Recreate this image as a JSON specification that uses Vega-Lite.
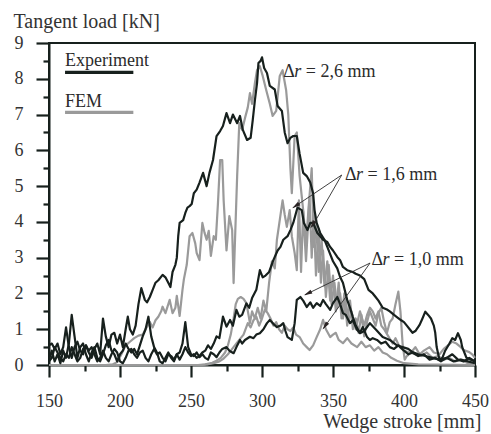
{
 "$schema": "https://vega.github.io/schema/vega-lite/v6.json",
 "width": 426, "height": 322,
 "autosize": "none",
 "padding": {"left": 49, "top": 43, "right": 16, "bottom": 69},
 "background": "white",
 "view": {"stroke": "#17201d", "strokeWidth": 2},
 "config": {
  "font": "Liberation Serif",
  "axis": {"domainColor": "#17201d", "domainWidth": 2, "ticks": true, "tickColor": "#17201d", "tickWidth": 2.2, "tickOpacity": 1,
   "labelFont": "Liberation Serif", "labelFontSize": 18, "labelColor": "#333333", "labelOverlap": false, "labelFlush": false,
   "titleFont": "Liberation Serif", "titleFontSize": 20, "titleFontWeight": "normal", "titleColor": "#333333", "grid": false}
 },
 "datasets": {
  "fem": [
   {"s":"F26","x":150,"y":0},{"s":"F26","x":190,"y":0},{"s":"F26","x":195,"y":0.02},{"s":"F26","x":198,"y":0.08},{"s":"F26","x":201,"y":0.3},{"s":"F26","x":204,"y":0.55},{"s":"F26","x":207,"y":0.65},{"s":"F26","x":210,"y":0.75},{"s":"F26","x":213,"y":0.82},{"s":"F26","x":216,"y":0.85},{"s":"F26","x":218,"y":1.0},{"s":"F26","x":221,"y":1.2},{"s":"F26","x":223,"y":1.05},{"s":"F26","x":225,"y":1.25},{"s":"F26","x":227,"y":1.35},{"s":"F26","x":229,"y":1.5},{"s":"F26","x":230,"y":1.63},{"s":"F26","x":232,"y":1.45},{"s":"F26","x":235,"y":1.82},{"s":"F26","x":237,"y":1.45},{"s":"F26","x":239,"y":1.6},{"s":"F26","x":240,"y":1.93},{"s":"F26","x":242,"y":1.37},{"s":"F26","x":244,"y":2.1},{"s":"F26","x":245,"y":2.4},{"s":"F26","x":247,"y":2.8},{"s":"F26","x":249,"y":3.6},{"s":"F26","x":251,"y":3.69},{"s":"F26","x":253,"y":3.4},{"s":"F26","x":254,"y":3.13},{"s":"F26","x":256,"y":2.93},{"s":"F26","x":258,"y":3.97},{"s":"F26","x":259.5,"y":3.7},{"s":"F26","x":261,"y":3.5},{"s":"F26","x":262.5,"y":3.75},{"s":"F26","x":264,"y":3.05},{"s":"F26","x":266,"y":3.6},{"s":"F26","x":267.5,"y":3.5},{"s":"F26","x":269,"y":4.53},{"s":"F26","x":270.5,"y":5.73},{"s":"F26","x":272,"y":5.73},{"s":"F26","x":273,"y":4.6},{"s":"F26","x":275,"y":3.2},{"s":"F26","x":277,"y":4.16},{"s":"F26","x":279,"y":3.77},{"s":"F26","x":280,"y":2.29},{"s":"F26","x":281,"y":3.5},{"s":"F26","x":282.5,"y":5.28},{"s":"F26","x":284,"y":6.76},{"s":"F26","x":286,"y":6.57},{"s":"F26","x":288,"y":6.9},{"s":"F26","x":290,"y":7.2},{"s":"F26","x":291.5,"y":7.6},{"s":"F26","x":293,"y":7.3},{"s":"F26","x":295,"y":7.88},{"s":"F26","x":296.5,"y":8.24},{"s":"F26","x":298.5,"y":8.35},{"s":"F26","x":300.5,"y":8.08},{"s":"F26","x":303,"y":7.68},{"s":"F26","x":305.5,"y":7.3},{"s":"F26","x":307.5,"y":6.96},{"s":"F26","x":310,"y":7.1},{"s":"F26","x":312.5,"y":8.08},{"s":"F26","x":314.5,"y":8.24},{"s":"F26","x":317,"y":7.68},{"s":"F26","x":318.5,"y":7.0},{"s":"F26","x":320,"y":5.5},{"s":"F26","x":321,"y":4.8},{"s":"F26","x":323,"y":6.4},{"s":"F26","x":324.5,"y":6.5},{"s":"F26","x":326.5,"y":5.28},{"s":"F26","x":329,"y":4.33},{"s":"F26","x":331,"y":3.4},{"s":"F26","x":333,"y":4.5},{"s":"F26","x":335,"y":5.5},{"s":"F26","x":336.5,"y":3.3},{"s":"F26","x":338,"y":4.0},{"s":"F26","x":340,"y":2.6},{"s":"F26","x":342,"y":3.5},{"s":"F26","x":344,"y":2.2},{"s":"F26","x":346,"y":2.9},{"s":"F26","x":348,"y":1.8},{"s":"F26","x":350,"y":2.5},{"s":"F26","x":352,"y":1.5},{"s":"F26","x":354,"y":2.3},{"s":"F26","x":356,"y":1.3},{"s":"F26","x":358,"y":2.0},{"s":"F26","x":360,"y":1.1},{"s":"F26","x":362,"y":1.8},{"s":"F26","x":364,"y":1.0},{"s":"F26","x":366,"y":1.3},{"s":"F26","x":368,"y":0.9},{"s":"F26","x":370,"y":1.4},{"s":"F26","x":372,"y":0.8},{"s":"F26","x":374,"y":1.2},{"s":"F26","x":376,"y":1.5},{"s":"F26","x":378,"y":1.3},{"s":"F26","x":380,"y":1.1},{"s":"F26","x":382,"y":1.45},{"s":"F26","x":384,"y":1.6},{"s":"F26","x":386,"y":1.2},{"s":"F26","x":388,"y":0.9},{"s":"F26","x":390,"y":1.2},{"s":"F26","x":392,"y":1.3},{"s":"F26","x":394,"y":1.7},{"s":"F26","x":396,"y":2.05},{"s":"F26","x":397.5,"y":1.5},{"s":"F26","x":399,"y":0.6},{"s":"F26","x":400.5,"y":0.15},{"s":"F26","x":402,"y":0.25},{"s":"F26","x":405,"y":0.35},{"s":"F26","x":408,"y":0.5},{"s":"F26","x":411,"y":0.3},{"s":"F26","x":414,"y":0.4},{"s":"F26","x":418,"y":0.5},{"s":"F26","x":421,"y":0.35},{"s":"F26","x":425,"y":0.3},{"s":"F26","x":428,"y":0.45},{"s":"F26","x":431,"y":0.55},{"s":"F26","x":434,"y":0.65},{"s":"F26","x":437,"y":0.6},{"s":"F26","x":440,"y":0.5},{"s":"F26","x":442,"y":0.42},{"s":"F26","x":446,"y":0.36},{"s":"F26","x":448,"y":0.3},{"s":"F26","x":450,"y":0.2},
   {"s":"F16","x":150,"y":0},{"s":"F16","x":255,"y":0},{"s":"F16","x":260,"y":0.02},{"s":"F16","x":265,"y":0.06},{"s":"F16","x":268,"y":0.12},{"s":"F16","x":271,"y":0.2},{"s":"F16","x":274,"y":0.35},{"s":"F16","x":276,"y":0.55},{"s":"F16","x":278,"y":0.85},{"s":"F16","x":280,"y":1.3},{"s":"F16","x":281.5,"y":1.7},{"s":"F16","x":283,"y":1.85},{"s":"F16","x":285,"y":1.9},{"s":"F16","x":287,"y":1.85},{"s":"F16","x":289,"y":1.73},{"s":"F16","x":290.5,"y":1.4},{"s":"F16","x":291.5,"y":1.17},{"s":"F16","x":293,"y":1.5},{"s":"F16","x":295,"y":1.3},{"s":"F16","x":297,"y":1.6},{"s":"F16","x":299,"y":1.3},{"s":"F16","x":301,"y":1.8},{"s":"F16","x":303,"y":1.5},{"s":"F16","x":305,"y":2.3},{"s":"F16","x":307,"y":2.9},{"s":"F16","x":309,"y":2.7},{"s":"F16","x":310.5,"y":3.5},{"s":"F16","x":312.5,"y":4.05},{"s":"F16","x":314.5,"y":4.6},{"s":"F16","x":316,"y":4.2},{"s":"F16","x":317.5,"y":3.86},{"s":"F16","x":319.5,"y":4.33},{"s":"F16","x":321,"y":3.6},{"s":"F16","x":323,"y":3.13},{"s":"F16","x":324.5,"y":2.65},{"s":"F16","x":326,"y":4.6},{"s":"F16","x":327.5,"y":2.6},{"s":"F16","x":329,"y":4.3},{"s":"F16","x":331,"y":2.9},{"s":"F16","x":333.5,"y":4.7},{"s":"F16","x":335,"y":3.0},{"s":"F16","x":336.5,"y":4.2},{"s":"F16","x":338,"y":2.5},{"s":"F16","x":340,"y":3.8},{"s":"F16","x":341.5,"y":2.3},{"s":"F16","x":343,"y":3.2},{"s":"F16","x":345,"y":1.9},{"s":"F16","x":347,"y":2.8},{"s":"F16","x":349,"y":1.7},{"s":"F16","x":351,"y":2.3},{"s":"F16","x":353,"y":1.6},{"s":"F16","x":355,"y":2.0},{"s":"F16","x":357,"y":1.3},{"s":"F16","x":359,"y":1.8},{"s":"F16","x":361,"y":1.2},{"s":"F16","x":363,"y":1.5},{"s":"F16","x":366,"y":1.0},{"s":"F16","x":369,"y":1.5},{"s":"F16","x":372,"y":1.1},{"s":"F16","x":374,"y":1.4},{"s":"F16","x":376,"y":1.6},{"s":"F16","x":378,"y":1.5},{"s":"F16","x":380,"y":1.3},{"s":"F16","x":382,"y":1.5},{"s":"F16","x":384,"y":1.1},{"s":"F16","x":386,"y":1.0},{"s":"F16","x":389,"y":0.8},{"s":"F16","x":392,"y":0.6},{"s":"F16","x":394,"y":0.75},{"s":"F16","x":397,"y":0.5},{"s":"F16","x":400,"y":0.4},{"s":"F16","x":404,"y":0.35},{"s":"F16","x":408,"y":0.3},{"s":"F16","x":412,"y":0.25},{"s":"F16","x":416,"y":0.35},{"s":"F16","x":420,"y":0.2},{"s":"F16","x":424,"y":0.25},{"s":"F16","x":428,"y":0.15},{"s":"F16","x":432,"y":0.2},{"s":"F16","x":436,"y":0.1},{"s":"F16","x":440,"y":0.15},{"s":"F16","x":445,"y":0.05},{"s":"F16","x":450,"y":0.05},
   {"s":"F10","x":150,"y":0},{"s":"F10","x":258,"y":0},{"s":"F10","x":262,"y":0.02},{"s":"F10","x":266,"y":0.05},{"s":"F10","x":270,"y":0.1},{"s":"F10","x":273,"y":0.18},{"s":"F10","x":276,"y":0.3},{"s":"F10","x":279,"y":0.45},{"s":"F10","x":282,"y":0.6},{"s":"F10","x":285,"y":0.75},{"s":"F10","x":287,"y":0.85},{"s":"F10","x":290,"y":1.17},{"s":"F10","x":292,"y":1.05},{"s":"F10","x":294,"y":1.25},{"s":"F10","x":296,"y":1.35},{"s":"F10","x":298,"y":1.1},{"s":"F10","x":300,"y":1.3},{"s":"F10","x":302,"y":1.55},{"s":"F10","x":304,"y":1.45},{"s":"F10","x":306,"y":1.3},{"s":"F10","x":308,"y":1.1},{"s":"F10","x":310,"y":1.2},{"s":"F10","x":312,"y":1.0},{"s":"F10","x":314,"y":0.9},{"s":"F10","x":316,"y":1.1},{"s":"F10","x":318,"y":1.0},{"s":"F10","x":320,"y":0.95},{"s":"F10","x":322,"y":1.05},{"s":"F10","x":324,"y":0.85},{"s":"F10","x":326.5,"y":0.78},{"s":"F10","x":329,"y":0.6},{"s":"F10","x":331.5,"y":0.5},{"s":"F10","x":333.5,"y":0.42},{"s":"F10","x":336,"y":0.55},{"s":"F10","x":338.5,"y":0.78},{"s":"F10","x":341,"y":1.0},{"s":"F10","x":343,"y":1.26},{"s":"F10","x":345,"y":1.0},{"s":"F10","x":348,"y":0.78},{"s":"F10","x":350,"y":0.85},{"s":"F10","x":352,"y":0.9},{"s":"F10","x":354,"y":0.7},{"s":"F10","x":357,"y":0.61},{"s":"F10","x":360,"y":0.75},{"s":"F10","x":363,"y":0.6},{"s":"F10","x":367,"y":0.5},{"s":"F10","x":370,"y":0.65},{"s":"F10","x":373,"y":0.5},{"s":"F10","x":376,"y":0.55},{"s":"F10","x":379,"y":0.4},{"s":"F10","x":382,"y":0.5},{"s":"F10","x":385,"y":0.35},{"s":"F10","x":388,"y":0.3},{"s":"F10","x":391,"y":0.2},{"s":"F10","x":395,"y":0.12},{"s":"F10","x":400,"y":0.05},{"s":"F10","x":410,"y":0.02},{"s":"F10","x":450,"y":0}
  ],
  "exp": [
   {"s":"E26","x":150,"y":0.55},{"s":"E26","x":152,"y":0.6},{"s":"E26","x":154,"y":0.45},{"s":"E26","x":156,"y":0.6},{"s":"E26","x":158,"y":0.3},{"s":"E26","x":160,"y":0.5},{"s":"E26","x":162,"y":1.05},{"s":"E26","x":164,"y":0.5},{"s":"E26","x":166,"y":0.2},{"s":"E26","x":168,"y":0.5},{"s":"E26","x":170,"y":0.65},{"s":"E26","x":172,"y":0.4},{"s":"E26","x":174,"y":0.3},{"s":"E26","x":176,"y":0.55},{"s":"E26","x":178,"y":0.35},{"s":"E26","x":180,"y":0.2},{"s":"E26","x":182,"y":0.45},{"s":"E26","x":184,"y":0.6},{"s":"E26","x":186,"y":0.3},{"s":"E26","x":188,"y":1.3},{"s":"E26","x":190,"y":0.8},{"s":"E26","x":192,"y":0.5},{"s":"E26","x":194,"y":0.85},{"s":"E26","x":196,"y":0.9},{"s":"E26","x":198,"y":0.6},{"s":"E26","x":200,"y":0.85},{"s":"E26","x":202,"y":0.5},{"s":"E26","x":204,"y":1.0},{"s":"E26","x":205.5,"y":1.35},{"s":"E26","x":207,"y":1.0},{"s":"E26","x":209,"y":0.85},{"s":"E26","x":211,"y":1.1},{"s":"E26","x":213,"y":1.7},{"s":"E26","x":215,"y":2.15},{"s":"E26","x":217.5,"y":1.82},{"s":"E26","x":219,"y":1.75},{"s":"E26","x":221,"y":1.9},{"s":"E26","x":223,"y":2.1},{"s":"E26","x":225,"y":2.3},{"s":"E26","x":227,"y":2.37},{"s":"E26","x":230,"y":2.52},{"s":"E26","x":232,"y":2.45},{"s":"E26","x":234,"y":2.3},{"s":"E26","x":235.5,"y":2.18},{"s":"E26","x":237,"y":2.6},{"s":"E26","x":239,"y":2.8},{"s":"E26","x":240,"y":3.0},{"s":"E26","x":241,"y":3.6},{"s":"E26","x":242,"y":3.97},{"s":"E26","x":244.5,"y":4.05},{"s":"E26","x":246,"y":4.25},{"s":"E26","x":247.5,"y":4.4},{"s":"E26","x":249,"y":4.44},{"s":"E26","x":250.5,"y":4.5},{"s":"E26","x":252,"y":4.8},{"s":"E26","x":254,"y":4.9},{"s":"E26","x":256,"y":5.1},{"s":"E26","x":258.5,"y":5.37},{"s":"E26","x":261,"y":5.0},{"s":"E26","x":263,"y":5.37},{"s":"E26","x":265.5,"y":5.73},{"s":"E26","x":268,"y":6.4},{"s":"E26","x":270.5,"y":6.54},{"s":"E26","x":272.5,"y":6.68},{"s":"E26","x":275,"y":7.04},{"s":"E26","x":277.5,"y":6.76},{"s":"E26","x":279.5,"y":7.0},{"s":"E26","x":282.5,"y":6.76},{"s":"E26","x":284.5,"y":6.96},{"s":"E26","x":286.5,"y":6.57},{"s":"E26","x":289.5,"y":6.29},{"s":"E26","x":292,"y":6.35},{"s":"E26","x":293.5,"y":6.85},{"s":"E26","x":295,"y":7.4},{"s":"E26","x":296.5,"y":7.88},{"s":"E26","x":297.5,"y":8.44},{"s":"E26","x":299,"y":8.5},{"s":"E26","x":300,"y":8.6},{"s":"E26","x":301.5,"y":8.3},{"s":"E26","x":303.5,"y":8.16},{"s":"E26","x":305.5,"y":7.8},{"s":"E26","x":309,"y":7.7},{"s":"E26","x":311,"y":7.24},{"s":"E26","x":314,"y":7.1},{"s":"E26","x":316,"y":6.5},{"s":"E26","x":318,"y":6.2},{"s":"E26","x":320,"y":6.35},{"s":"E26","x":322,"y":6.4},{"s":"E26","x":324.5,"y":6.4},{"s":"E26","x":326.5,"y":5.9},{"s":"E26","x":329,"y":5.37},{"s":"E26","x":331.5,"y":5.28},{"s":"E26","x":334,"y":5.1},{"s":"E26","x":336,"y":4.8},{"s":"E26","x":337,"y":4.33},{"s":"E26","x":338.5,"y":3.97},{"s":"E26","x":341,"y":3.69},{"s":"E26","x":344,"y":3.5},{"s":"E26","x":346,"y":3.3},{"s":"E26","x":348,"y":3.1},{"s":"E26","x":350,"y":2.9},{"s":"E26","x":353,"y":2.7},{"s":"E26","x":355,"y":2.46},{"s":"E26","x":357,"y":2.3},{"s":"E26","x":360,"y":1.82},{"s":"E26","x":362,"y":1.6},{"s":"E26","x":364,"y":1.34},{"s":"E26","x":366,"y":1.1},{"s":"E26","x":369,"y":0.89},{"s":"E26","x":372,"y":0.95},{"s":"E26","x":376,"y":1.17},{"s":"E26","x":380,"y":1.0},{"s":"E26","x":385,"y":0.78},{"s":"E26","x":390,"y":0.7},{"s":"E26","x":395,"y":0.55},{"s":"E26","x":399,"y":0.5},{"s":"E26","x":403,"y":0.45},{"s":"E26","x":406,"y":0.36},{"s":"E26","x":410,"y":0.3},{"s":"E26","x":415,"y":0.25},{"s":"E26","x":420,"y":0.2},{"s":"E26","x":425,"y":0.15},{"s":"E26","x":430,"y":0.2},{"s":"E26","x":435,"y":0.1},{"s":"E26","x":440,"y":0.15},{"s":"E26","x":445,"y":0.1},{"s":"E26","x":450,"y":0.05},
   {"s":"E16","x":150,"y":0.15},{"s":"E16","x":152,"y":0.4},{"s":"E16","x":154,"y":0.1},{"s":"E16","x":156,"y":0.3},{"s":"E16","x":158,"y":0.05},{"s":"E16","x":160,"y":0.4},{"s":"E16","x":162,"y":0.2},{"s":"E16","x":164,"y":0.6},{"s":"E16","x":166,"y":1.4},{"s":"E16","x":168,"y":0.8},{"s":"E16","x":170,"y":0.2},{"s":"E16","x":172,"y":0.5},{"s":"E16","x":174,"y":0.6},{"s":"E16","x":176,"y":0.3},{"s":"E16","x":178,"y":0.1},{"s":"E16","x":180,"y":0.35},{"s":"E16","x":182,"y":0.5},{"s":"E16","x":184,"y":0.2},{"s":"E16","x":186,"y":0.1},{"s":"E16","x":188,"y":0.3},{"s":"E16","x":190,"y":0.55},{"s":"E16","x":192,"y":0.7},{"s":"E16","x":194,"y":0.4},{"s":"E16","x":196,"y":0.3},{"s":"E16","x":198,"y":0.1},{"s":"E16","x":200,"y":0.3},{"s":"E16","x":202,"y":0.4},{"s":"E16","x":204,"y":0.6},{"s":"E16","x":206,"y":0.45},{"s":"E16","x":208,"y":0.35},{"s":"E16","x":210,"y":0.45},{"s":"E16","x":212,"y":0.3},{"s":"E16","x":214,"y":0.55},{"s":"E16","x":216,"y":0.8},{"s":"E16","x":218,"y":1.0},{"s":"E16","x":220,"y":1.35},{"s":"E16","x":222,"y":0.8},{"s":"E16","x":224,"y":0.5},{"s":"E16","x":226,"y":0.35},{"s":"E16","x":228,"y":0.1},{"s":"E16","x":230,"y":0.05},{"s":"E16","x":232,"y":0.2},{"s":"E16","x":234,"y":0.35},{"s":"E16","x":236,"y":0.2},{"s":"E16","x":238,"y":0.1},{"s":"E16","x":240,"y":0.3},{"s":"E16","x":242,"y":0.15},{"s":"E16","x":244,"y":0.3},{"s":"E16","x":246,"y":0.5},{"s":"E16","x":248,"y":0.35},{"s":"E16","x":250,"y":0.25},{"s":"E16","x":252,"y":0.3},{"s":"E16","x":254,"y":0.2},{"s":"E16","x":256,"y":0.25},{"s":"E16","x":258,"y":0.35},{"s":"E16","x":260,"y":0.4},{"s":"E16","x":262,"y":0.55},{"s":"E16","x":264,"y":0.45},{"s":"E16","x":266,"y":0.6},{"s":"E16","x":268,"y":0.8},{"s":"E16","x":270,"y":0.75},{"s":"E16","x":272.5,"y":1.35},{"s":"E16","x":275,"y":1.07},{"s":"E16","x":277.5,"y":1.26},{"s":"E16","x":279.5,"y":1.1},{"s":"E16","x":282,"y":1.54},{"s":"E16","x":284,"y":1.35},{"s":"E16","x":286,"y":1.4},{"s":"E16","x":289,"y":1.72},{"s":"E16","x":291,"y":1.6},{"s":"E16","x":293,"y":1.87},{"s":"E16","x":296,"y":2.1},{"s":"E16","x":298.5,"y":2.65},{"s":"E16","x":300.5,"y":2.45},{"s":"E16","x":302.5,"y":2.5},{"s":"E16","x":305,"y":2.6},{"s":"E16","x":308,"y":2.93},{"s":"E16","x":311,"y":3.2},{"s":"E16","x":313,"y":3.3},{"s":"E16","x":315,"y":3.5},{"s":"E16","x":318,"y":3.6},{"s":"E16","x":320,"y":3.77},{"s":"E16","x":322,"y":3.97},{"s":"E16","x":325,"y":4.4},{"s":"E16","x":328,"y":4.33},{"s":"E16","x":329.5,"y":3.97},{"s":"E16","x":332,"y":3.77},{"s":"E16","x":334,"y":3.97},{"s":"E16","x":336,"y":3.97},{"s":"E16","x":339,"y":3.69},{"s":"E16","x":341,"y":3.6},{"s":"E16","x":343,"y":3.5},{"s":"E16","x":346,"y":3.44},{"s":"E16","x":348,"y":3.3},{"s":"E16","x":350,"y":3.2},{"s":"E16","x":353,"y":3.02},{"s":"E16","x":355,"y":2.93},{"s":"E16","x":357,"y":2.74},{"s":"E16","x":360,"y":2.65},{"s":"E16","x":364,"y":2.6},{"s":"E16","x":366,"y":2.55},{"s":"E16","x":369,"y":2.5},{"s":"E16","x":372,"y":2.4},{"s":"E16","x":375,"y":2.1},{"s":"E16","x":378,"y":2.0},{"s":"E16","x":380,"y":1.9},{"s":"E16","x":382,"y":1.8},{"s":"E16","x":385,"y":1.6},{"s":"E16","x":388,"y":1.55},{"s":"E16","x":390,"y":1.5},{"s":"E16","x":393,"y":1.4},{"s":"E16","x":395,"y":1.34},{"s":"E16","x":398,"y":1.25},{"s":"E16","x":400,"y":1.2},{"s":"E16","x":402,"y":1.1},{"s":"E16","x":404,"y":1.0},{"s":"E16","x":406,"y":0.9},{"s":"E16","x":408,"y":0.95},{"s":"E16","x":411,"y":1.12},{"s":"E16","x":413,"y":1.3},{"s":"E16","x":415,"y":1.49},{"s":"E16","x":417,"y":1.4},{"s":"E16","x":419,"y":1.3},{"s":"E16","x":421,"y":1.1},{"s":"E16","x":422,"y":0.9},{"s":"E16","x":423,"y":0.5},{"s":"E16","x":425,"y":0.14},{"s":"E16","x":427,"y":0.2},{"s":"E16","x":429,"y":0.4},{"s":"E16","x":432,"y":0.6},{"s":"E16","x":434,"y":0.75},{"s":"E16","x":436,"y":0.7},{"s":"E16","x":438,"y":0.89},{"s":"E16","x":440,"y":0.7},{"s":"E16","x":441,"y":0.5},{"s":"E16","x":443,"y":0.3},{"s":"E16","x":444,"y":0.2},{"s":"E16","x":447,"y":0.15},{"s":"E16","x":450,"y":0.1},
   {"s":"E10","x":150,"y":0.1},{"s":"E10","x":152,"y":0.2},{"s":"E10","x":154,"y":0.5},{"s":"E10","x":156,"y":0.35},{"s":"E10","x":158,"y":0.2},{"s":"E10","x":160,"y":0.1},{"s":"E10","x":162,"y":0.3},{"s":"E10","x":164,"y":0.2},{"s":"E10","x":166,"y":0.5},{"s":"E10","x":168,"y":0.3},{"s":"E10","x":170,"y":0.1},{"s":"E10","x":172,"y":0.2},{"s":"E10","x":174,"y":0.45},{"s":"E10","x":176,"y":0.55},{"s":"E10","x":178,"y":0.4},{"s":"E10","x":180,"y":0.5},{"s":"E10","x":182,"y":0.3},{"s":"E10","x":184,"y":0.1},{"s":"E10","x":186,"y":0.2},{"s":"E10","x":188,"y":0.4},{"s":"E10","x":190,"y":0.2},{"s":"E10","x":192,"y":0.1},{"s":"E10","x":194,"y":0.3},{"s":"E10","x":196,"y":0.45},{"s":"E10","x":198,"y":0.35},{"s":"E10","x":200,"y":0.1},{"s":"E10","x":202,"y":0.05},{"s":"E10","x":204,"y":0.2},{"s":"E10","x":206,"y":0.4},{"s":"E10","x":208,"y":0.45},{"s":"E10","x":210,"y":0.3},{"s":"E10","x":212,"y":0.2},{"s":"E10","x":214,"y":0.35},{"s":"E10","x":216,"y":0.4},{"s":"E10","x":218,"y":0.2},{"s":"E10","x":220,"y":0.1},{"s":"E10","x":222,"y":0.3},{"s":"E10","x":224,"y":0.45},{"s":"E10","x":226,"y":0.3},{"s":"E10","x":228,"y":0.35},{"s":"E10","x":230,"y":0.2},{"s":"E10","x":232,"y":0.1},{"s":"E10","x":234,"y":0.3},{"s":"E10","x":236,"y":0.25},{"s":"E10","x":238,"y":0.15},{"s":"E10","x":240,"y":0.3},{"s":"E10","x":242,"y":0.35},{"s":"E10","x":244,"y":0.6},{"s":"E10","x":246,"y":1.2},{"s":"E10","x":248,"y":0.5},{"s":"E10","x":250,"y":0.3},{"s":"E10","x":252,"y":0.25},{"s":"E10","x":254,"y":0.35},{"s":"E10","x":256,"y":0.22},{"s":"E10","x":258,"y":0.3},{"s":"E10","x":260,"y":0.2},{"s":"E10","x":262,"y":0.15},{"s":"E10","x":264,"y":0.35},{"s":"E10","x":266,"y":0.3},{"s":"E10","x":268,"y":0.22},{"s":"E10","x":270,"y":0.35},{"s":"E10","x":272,"y":0.45},{"s":"E10","x":275,"y":0.5},{"s":"E10","x":277,"y":0.4},{"s":"E10","x":280,"y":0.33},{"s":"E10","x":282,"y":0.5},{"s":"E10","x":284.5,"y":0.7},{"s":"E10","x":286,"y":0.6},{"s":"E10","x":288,"y":0.7},{"s":"E10","x":291.5,"y":0.79},{"s":"E10","x":294,"y":0.75},{"s":"E10","x":296,"y":0.85},{"s":"E10","x":298.5,"y":0.89},{"s":"E10","x":301,"y":1.0},{"s":"E10","x":303.5,"y":1.17},{"s":"E10","x":305.5,"y":1.26},{"s":"E10","x":308,"y":1.15},{"s":"E10","x":310.5,"y":1.06},{"s":"E10","x":313,"y":1.1},{"s":"E10","x":315,"y":1.17},{"s":"E10","x":316.5,"y":0.95},{"s":"E10","x":318,"y":0.78},{"s":"E10","x":321,"y":0.7},{"s":"E10","x":323,"y":1.17},{"s":"E10","x":324.5,"y":1.82},{"s":"E10","x":327,"y":1.9},{"s":"E10","x":329,"y":1.8},{"s":"E10","x":331.5,"y":1.62},{"s":"E10","x":334,"y":1.75},{"s":"E10","x":336,"y":1.6},{"s":"E10","x":338.5,"y":1.73},{"s":"E10","x":341,"y":1.65},{"s":"E10","x":343,"y":1.82},{"s":"E10","x":345,"y":1.7},{"s":"E10","x":348,"y":1.54},{"s":"E10","x":350,"y":1.73},{"s":"E10","x":353,"y":1.9},{"s":"E10","x":355,"y":1.7},{"s":"E10","x":357,"y":1.45},{"s":"E10","x":359,"y":1.4},{"s":"E10","x":362,"y":1.17},{"s":"E10","x":364,"y":1.25},{"s":"E10","x":367,"y":0.98},{"s":"E10","x":369,"y":0.9},{"s":"E10","x":371,"y":1.06},{"s":"E10","x":374,"y":0.78},{"s":"E10","x":376,"y":0.7},{"s":"E10","x":378,"y":0.75},{"s":"E10","x":381,"y":0.7},{"s":"E10","x":384,"y":0.6},{"s":"E10","x":387,"y":0.65},{"s":"E10","x":390,"y":0.5},{"s":"E10","x":393,"y":0.45},{"s":"E10","x":396,"y":0.55},{"s":"E10","x":400,"y":0.4},{"s":"E10","x":403,"y":0.3},{"s":"E10","x":406,"y":0.35},{"s":"E10","x":410,"y":0.25},{"s":"E10","x":414,"y":0.3},{"s":"E10","x":418,"y":0.15},{"s":"E10","x":422,"y":0.2},{"s":"E10","x":426,"y":0.1},{"s":"E10","x":430,"y":0.2},{"s":"E10","x":434,"y":0.3},{"s":"E10","x":438,"y":0.15},{"s":"E10","x":442,"y":0.1},{"s":"E10","x":446,"y":0.2},{"s":"E10","x":450,"y":0.1}
  ],
  "legendLines": [
   {"x": 161.3, "x2": 209.4, "y": 8.18, "c": "Experiment"},
   {"x": 161.3, "x2": 209.4, "y": 7.06, "c": "FEM"}
  ],
  "legendText": [
   {"x": 161.3, "y": 8.37, "t": "Experiment"},
   {"x": 161.3, "y": 7.22, "t": "FEM"}
  ],
  "arrows": [
   {"x": 356.1, "y": 5.31, "x2": 322.0, "y2": 4.4},
   {"x": 356.1, "y": 5.31, "x2": 335.0, "y2": 3.85},
   {"x": 376.1, "y": 2.85, "x2": 330.3, "y2": 1.96},
   {"x": 376.1, "y": 2.85, "x2": 343.2, "y2": 1.02}
  ],
  "heads": [
   {"x": 323.7, "y": 4.45, "a": 236},
   {"x": 335.6, "y": 3.92, "a": 210},
   {"x": 332.2, "y": 2.0, "a": 244},
   {"x": 344.4, "y": 1.09, "a": 215}
  ],
  "notes": [
   {"x": 315.0, "y": 8.06, "d": "Δ", "r": "r", "rest": "= 2,6 mm"},
   {"x": 358.5, "y": 5.17, "d": "Δ", "r": "r", "rest": "= 1,6 mm"},
   {"x": 377.2, "y": 2.79, "d": "Δ", "r": "r", "rest": "= 1,0 mm"}
  ]
 },
 "encoding": {
  "x": {"field": "x", "type": "quantitative", "scale": {"domain": [150, 450], "nice": false, "zero": false},
   "axis": {"title": "Wedge stroke [mm]", "values": [150,175,200,225,250,275,300,325,350,375,400,425,450],
    "labelExpr": "datum.value % 50 === 0 ? format(datum.value, 'd') : ''",
    "tickSize": {"condition": {"test": "datum.value % 50 === 0", "value": 12}, "value": 6},
    "labelPadding": 15,
    "titleAngle": 0, "titleAlign": "right", "titleBaseline": "alphabetic", "titleX": 432, "titleY": 62}},
  "y": {"field": "y", "type": "quantitative", "scale": {"domain": [0, 9], "nice": false, "zero": false},
   "axis": {"title": "Tangent load [kN]", "values": [0,0.5,1,1.5,2,2.5,3,3.5,4,4.5,5,5.5,6,6.5,7,7.5,8,8.5,9],
    "labelExpr": "datum.value % 1 === 0 ? format(datum.value, 'd') : ''",
    "tickSize": {"condition": {"test": "datum.value % 1 === 0", "value": 13}, "value": 6},
    "labelPadding": 13,
    "titleAngle": 0, "titleAlign": "left", "titleBaseline": "alphabetic", "titleX": -36, "titleY": -16}}
 },
 "layer": [
  {
   "data": {"name": "fem"},
   "mark": {"type": "line", "stroke": "#9a9a9a", "strokeWidth": 2.2, "strokeJoin": "round"},
   "encoding": {"detail": {"field": "s"}}
  },
  {
   "data": {"name": "exp"},
   "mark": {"type": "line", "stroke": "#17201d", "strokeWidth": 2.2, "strokeJoin": "round"},
   "encoding": {"detail": {"field": "s"}}
  },
  {
   "data": {"name": "legendLines"},
   "mark": {"type": "rule", "strokeWidth": 3.3, "strokeCap": "butt"},
   "encoding": {
    "x2": {"field": "x2"},
    "color": {"field": "c", "type": "nominal", "scale": {"domain": ["Experiment", "FEM"], "range": ["#17201d", "#9a9a9a"]}, "legend": null}
   }
  },
  {
   "data": {"name": "legendText"},
   "mark": {"type": "text", "align": "left", "baseline": "alphabetic", "font": "Liberation Serif", "fontSize": 18, "color": "#2b2b2b"},
   "encoding": {"text": {"field": "t"}}
  },
  {
   "data": {"name": "arrows"},
   "mark": {"type": "rule", "strokeWidth": 0.9, "color": "#2b2b2b"},
   "encoding": {"x2": {"field": "x2"}, "y2": {"field": "y2"}}
  },
  {
   "data": {"name": "heads"},
   "mark": {"type": "point", "shape": "M0,-1L0.5,1L-0.5,1Z", "filled": true, "size": 70, "color": "#2b2424", "opacity": 1},
   "encoding": {"angle": {"field": "a", "type": "quantitative", "scale": null}}
  },
  {
   "data": {"name": "notes"},
   "mark": {"type": "text", "align": "left", "baseline": "alphabetic", "font": "Liberation Serif", "fontSize": 18, "color": "#2b2b2b"},
   "encoding": {"text": {"field": "d"}}
  },
  {
   "data": {"name": "notes"},
   "mark": {"type": "text", "align": "left", "baseline": "alphabetic", "font": "Liberation Serif", "fontSize": 18, "fontStyle": "italic", "color": "#2b2b2b", "dx": 11},
   "encoding": {"text": {"field": "r"}}
  },
  {
   "data": {"name": "notes"},
   "mark": {"type": "text", "align": "left", "baseline": "alphabetic", "font": "Liberation Serif", "fontSize": 18, "color": "#2b2b2b", "dx": 22.5},
   "encoding": {"text": {"field": "rest"}}
  }
 ]
}
